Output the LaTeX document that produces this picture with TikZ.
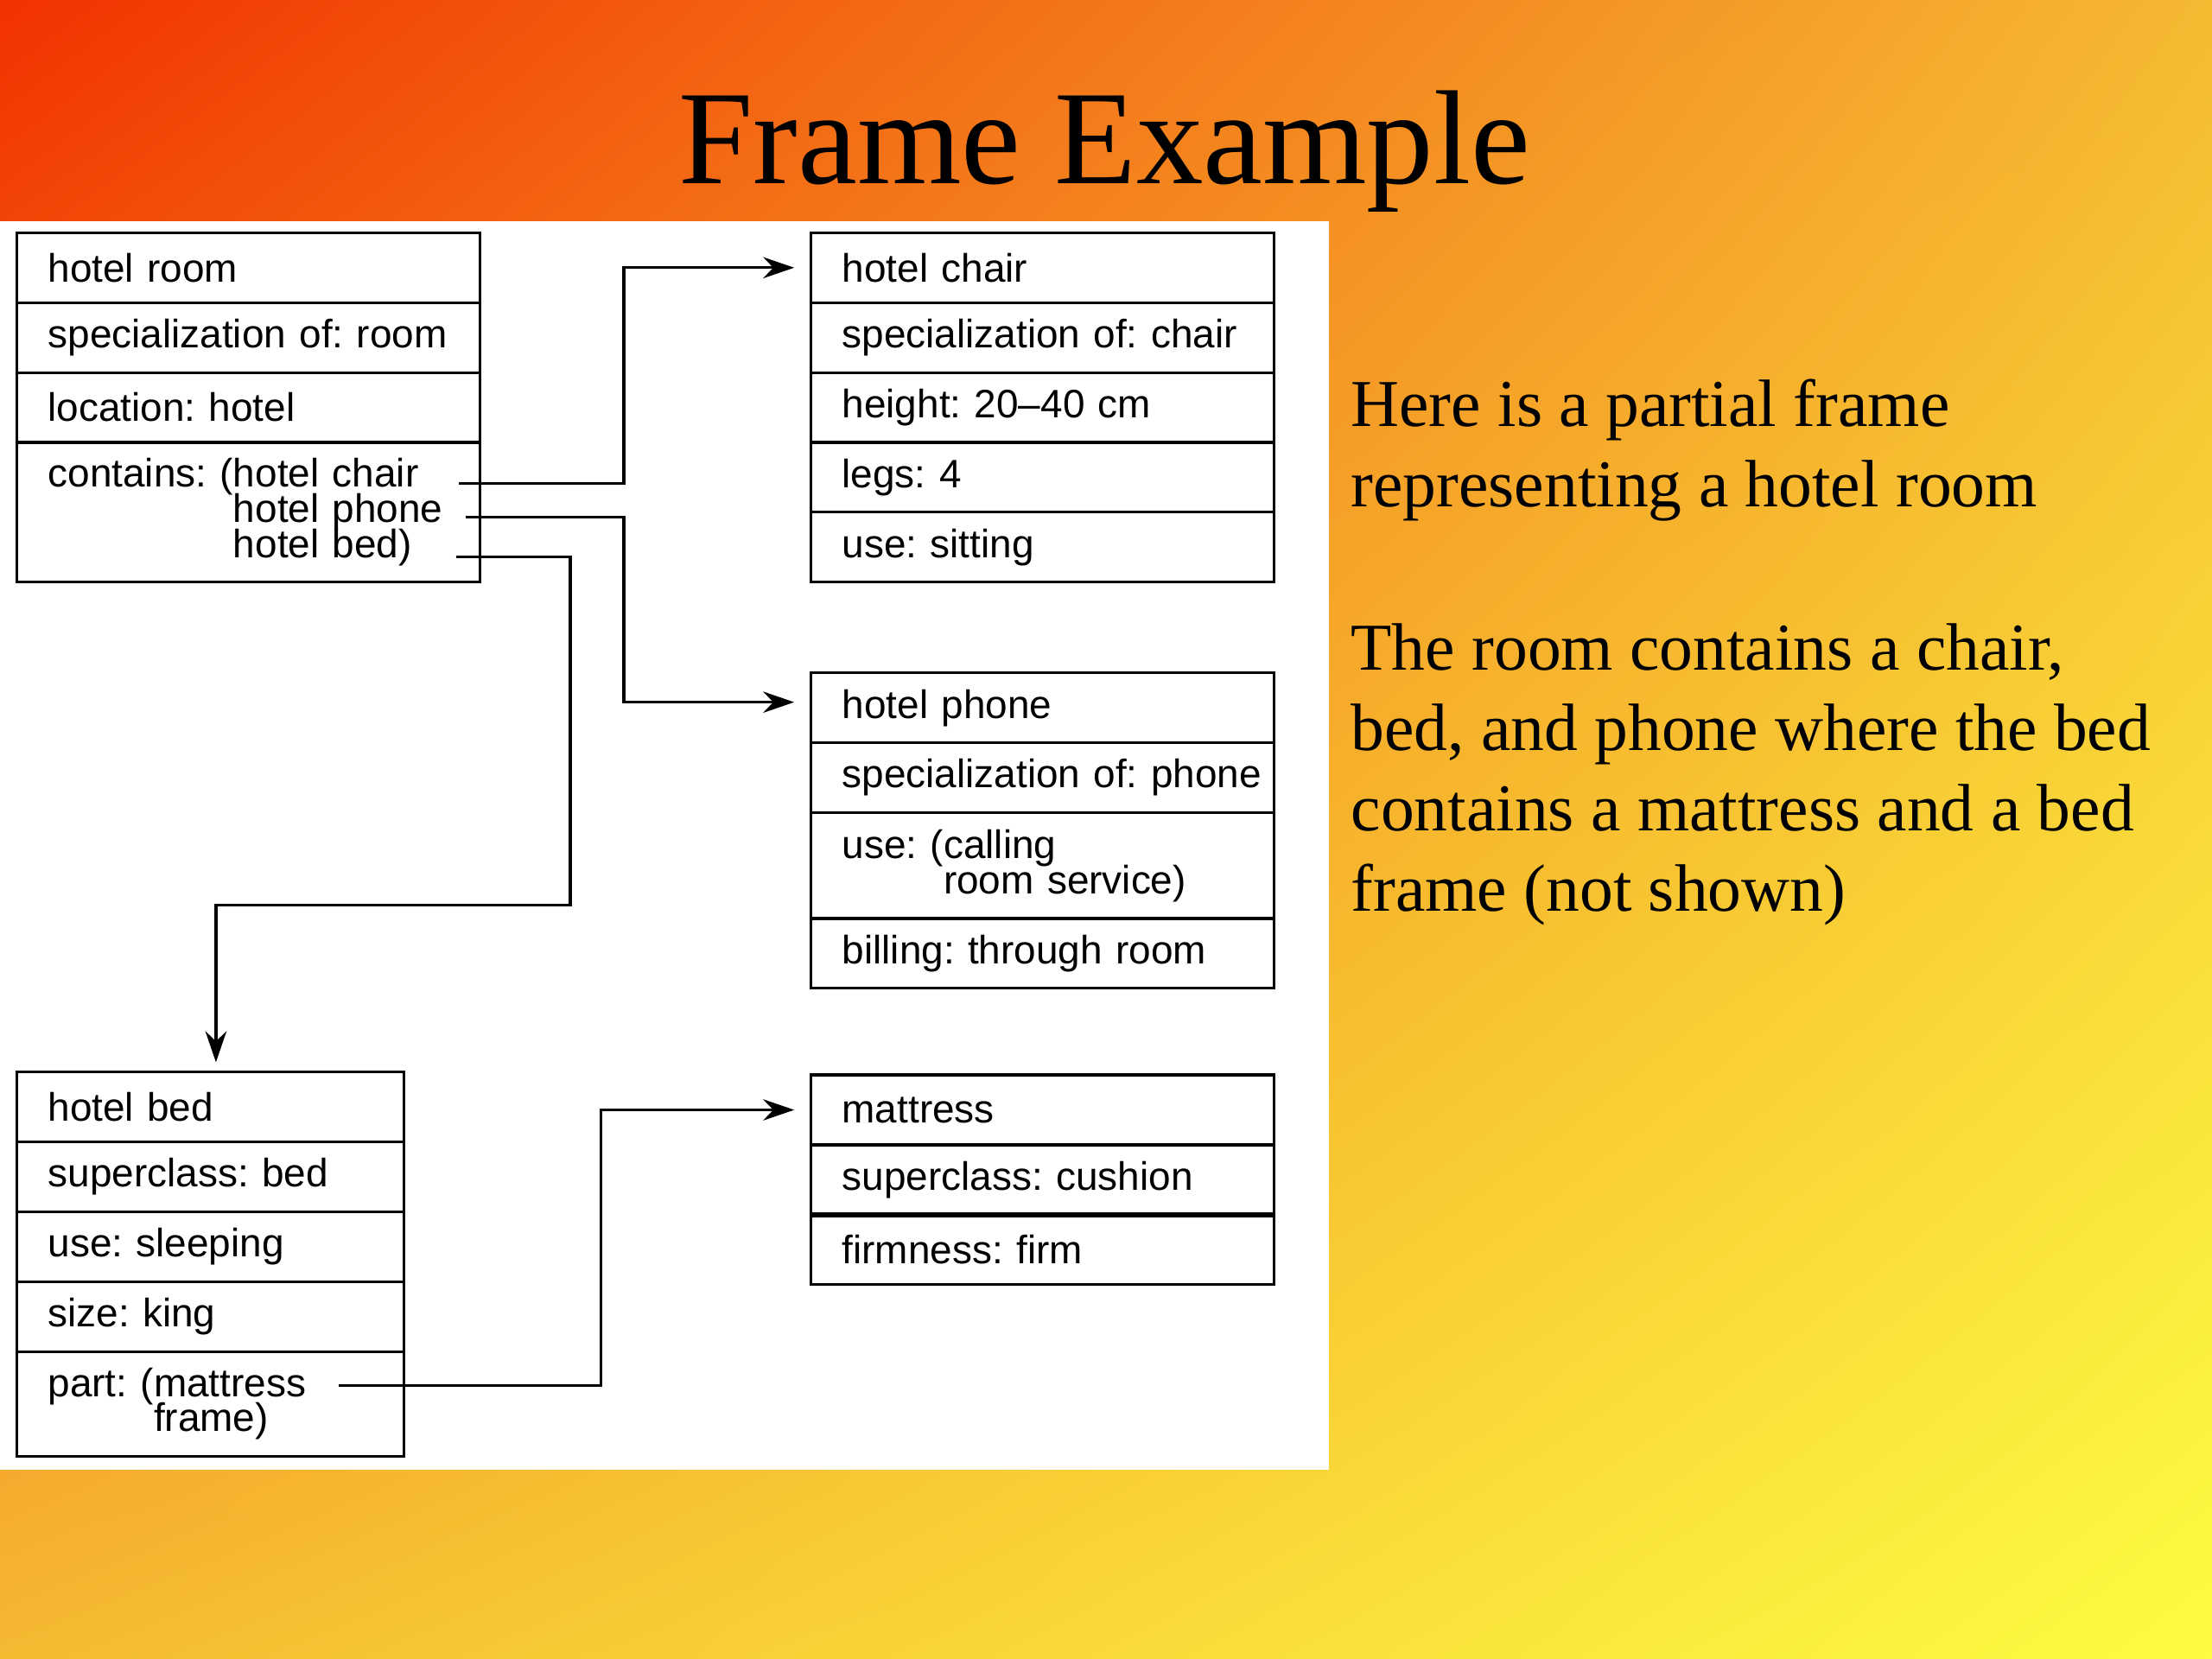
\documentclass[tikz,border=0pt]{standalone}
\usepackage{fontspec}
\setmainfont{Liberation Serif}
\newfontfamily\slotsans{Liberation Sans}
\usetikzlibrary{arrows.meta, positioning, calc, shadings}

\definecolor{bgred}{RGB}{242,50,0}
\definecolor{bgorange}{RGB}{245,185,50}
\definecolor{bgyellow}{RGB}{253,252,64}
\newcommand{\slotfont}{\slotsans\fontsize{8}{7.1}\selectfont\lineskiplimit=-10pt\frenchspacing}

\begin{document}
\begin{tikzpicture}[
        x=0.01cm, y=-0.01cm,
        cell/.style={rectangle, draw, line width=0.55pt, outer sep=0pt, inner xsep=0.22cm, inner ysep=0pt,
                     minimum height=0.495cm, text width=2.84cm, align=left, font=\slotfont},
        bedcell/.style={cell, text width=2.30cm},
        head/.style={anchor=north west},
        link/.style={-{Stealth[length=2.2mm, width=1.5mm]}, line width=0.55pt},
        prose/.style={anchor=base west, align=left, inner sep=0pt, font=\fontsize{13.5}{16.2}\selectfont}
    ]
    \useasboundingbox (0,0) rectangle (1568,1176);
    \shade[upper left=bgred, upper right=bgorange, lower left=bgorange, lower right=bgyellow] (0,0) rectangle (1568,1176);
    \fill[white] (0,157) rectangle (942,1042);

    \node[anchor=base, font=\fontsize{27}{32}\selectfont] (title) at (783,130) {Frame Example};

    % hotel room
    \node[cell, head] (room) at (12,165) {hotel room};
    \node[cell, below=0pt of room] (roomspec) {specialization~of:~room};
    \node[cell, below=0pt of roomspec] (roomloc) {location: hotel};
    \node[cell, below=0pt of roomloc, minimum height=0.99cm] (contains) {contains:~(hotel~chair\\\phantom{contains:~(}hotel~phone\\\phantom{contains:~(}hotel~bed)};

    % hotel chair
    \node[cell, head] (chair) at (575,165) {hotel chair};
    \node[cell, below=0pt of chair] (chairspec) {specialization~of:~chair};
    \node[cell, below=0pt of chairspec] (height) {height: 20–40 cm};
    \node[cell, below=0pt of height] (legs) {legs: 4};
    \node[cell, below=0pt of legs] (sitting) {use: sitting};

    % hotel phone
    \node[cell, head] (phone) at (575,477) {hotel phone};
    \node[cell, below=0pt of phone] (phonespec) {specialization~of:~phone};
    \node[cell, below=0pt of phonespec, minimum height=0.75cm] (calling) {use:~(calling\\\phantom{use:~(}room~service)};
    \node[cell, below=0pt of calling] (billing) {billing: through room};

    % mattress
    \node[cell, head] (mattress) at (575,762) {mattress};
    \node[cell, below=0pt of mattress] (cushion) {superclass: cushion};
    \node[cell, below=0pt of cushion] (firm) {firmness: firm};
    \draw[line width=1pt] (firm.north west) -- (firm.north east);

    % hotel bed
    \node[bedcell, head] (bed) at (12,760) {hotel bed};
    \node[bedcell, below=0pt of bed] (bedsuper) {superclass: bed};
    \node[bedcell, below=0pt of bedsuper] (sleeping) {use: sleeping};
    \node[bedcell, below=0pt of sleeping] (king) {size: king};
    \node[bedcell, below=0pt of king, minimum height=0.74cm] (part) {part:~(mattress\\\phantom{part:~(}frame)};

    % slot pointers
    \coordinate (tochair) at ([xshift=-0.15cm, yshift=0.205cm]contains.east);
    \coordinate (tophone) at ([xshift=-0.10cm, yshift=-0.035cm]contains.east);
    \coordinate (tobed) at ([xshift=-0.17cm, yshift=-0.315cm]contains.east);
    \coordinate (tomattress) at ([xshift=-0.46cm, yshift=0.13cm]part.east);

    \draw[link] (tochair) -- ++(1.17cm,0) |- ([xshift=-0.12cm]chair.west);
    \draw[link] (tophone) -- ++(1.12cm,0) |- ([xshift=-0.12cm, yshift=0.04cm]phone.west);
    \draw[link] (tobed) -- ++(0.81cm,0) -- ++(0,-2.47cm) -| ([xshift=0.04cm, yshift=0.07cm]bed.north);
    \draw[link] (tomattress) -- ++(1.86cm,0) |- ([xshift=-0.12cm]mattress.west);

    \node[prose] (intro) at (957,359) {Here is a partial frame\\representing a hotel room};
    \node[prose] (note) at (957,646) {The room contains a chair,\\bed, and phone where the bed\\contains a mattress and a bed\\frame (not shown)};
\end{tikzpicture}
\end{document}
